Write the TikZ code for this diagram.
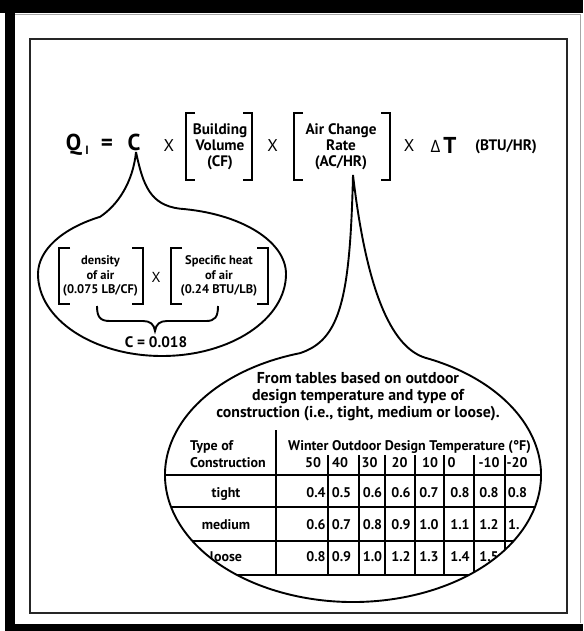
\documentclass[tikz,border=0pt]{standalone}
\usepackage{fontspec}
\setmainfont{PT Sans}
\newfontfamily\grk{Open Sans}
\usetikzlibrary{calc}
\begin{document}
\begin{tikzpicture}[x=1pt,y=-1pt,
  t/.style={inner sep=0pt,anchor=base,font=\bfseries\fontsize{15.2}{17}\selectfont},
  rt/.style={inner sep=0pt,anchor=base,font=\bfseries\fontsize{15.8}{17}\selectfont},
  big/.style={inner sep=0pt,anchor=base,font=\bfseries\fontsize{23}{25}\selectfont},
  mul/.style={inner sep=0pt,anchor=base,font=\fontsize{17}{19}\selectfont},
  sm/.style={inner sep=0pt,anchor=base,font=\bfseries\fontsize{12.5}{14}\selectfont},
  tb/.style={inner sep=0pt,anchor=base,font=\bfseries\fontsize{14}{15}\selectfont},
  brk/.style={line width=2.3pt},
  outl/.style={line width=1.9pt,line join=round},
  rule/.style={line width=1.7pt}]
\useasboundingbox (0,0) rectangle (583,631);
% frame
\fill[white] (0,0) rectangle (583,631);
\fill[black] (0,0) rectangle (583,13);
\fill[black] (4.5,0) rectangle (15,631);
\fill[black] (4.5,624) rectangle (583,631);
\draw[black!35,line width=0.8pt] (15,14) -- (580,14) -- (580,623);
\draw[black!85,line width=2pt] (30,39) rectangle (567,613);
% equation
\node[big] (q) at (73.5,151) {Q};
\node[inner sep=0pt,anchor=base,font=\bfseries\fontsize{12}{14}\selectfont] (qi) at (87,155) {I};
\node[big] (eq) at (107,151) {=};
\node[big] (c) at (134,151) {C};
\node[mul] (x1) at (169,152) {X};
\draw[brk] (195,113) -- (186,113) -- (186,180) -- (195,180);
\draw[brk] (243,113) -- (252,113) -- (252,180) -- (243,180);
\node[t] (bv1) at (220,135) {Building};
\node[t] (bv2) at (220,151) {Volume};
\node[t] (bv3) at (220,167) {(CF)};
\node[mul] (x2) at (272.5,152) {X};
\draw[brk] (303,113) -- (294,113) -- (294,180) -- (303,180);
\draw[brk] (381,113) -- (390,113) -- (390,180) -- (381,180);
\node[t] (ac1) at (341,135) {Air Change};
\node[t] (ac2) at (341,151) {Rate};
\node[t] (ac3) at (341,167) {(AC/HR)};
\node[mul] (x3) at (409,152) {X};
\node[inner sep=0pt,anchor=base,font=\grk\fontsize{17}{19}\selectfont] (dl) at (435.5,153) {Δ};
\node[big] (tt) at (450,153.5) {T};
\node[t] (unit) at (506,151) {(BTU/HR)};
% left callout
\draw[outl] (136,152) .. controls (143,185) and (150,205) .. ($(162,274)+(-81.7:124 and 66)$)
  arc[start angle=-81.7,end angle=0,x radius=124,y radius=66]
  arc[start angle=0,end angle=180,x radius=124,y radius=82]
  arc[start angle=180,end angle=240,x radius=124,y radius=66]
  .. controls (118,205) and (133,182) .. (136,152);
\draw[brk] (70,248) -- (59,248) -- (59,304) -- (70,304);
\draw[brk] (132,248) -- (143,248) -- (143,304) -- (132,304);
\node[sm] (d1) at (100.5,264) {density};
\node[sm] (d2) at (100.5,279) {of air};
\node[sm] (d3) at (100.5,293) {(0.075 LB/CF)};
\node[inner sep=0pt,anchor=base,font=\fontsize{14.5}{16}\selectfont] (x4) at (156,282) {X};
\draw[brk] (182,248) -- (171,248) -- (171,304) -- (182,304);
\draw[brk] (257,248) -- (268,248) -- (268,304) -- (257,304);
\node[sm] (s1) at (219,264) {Specific heat};
\node[sm] (s2) at (219,279) {of air};
\node[sm] (s3) at (219,293) {(0.24 BTU/LB)};
\draw[line width=1.9pt] (97,306) .. controls (97,317) and (100,321) .. (110,321) -- (143,321)
  .. controls (150,321) and (154,324) .. (155,331) .. controls (156,324) and (160,321) .. (167,321)
  -- (206,321) .. controls (215,321) and (218,317) .. (218,306);
\node[t] (c18) at (156,347) {C = 0.018};
% right callout
\begin{scope}
\clip (353,475) ellipse [x radius=188,y radius=127];
\node[rt] (r1) at (358,383) {From tables based on outdoor};
\node[rt] (r2) at (358,400) {design temperature and type of};
\node[rt] (r3) at (358,417) {construction (i.e., tight, medium or loose).};
\node[tb,anchor=base west] (h1) at (190,450) {Type of};
\node[tb,anchor=base west] (h2) at (190,467) {Construction};
\node[tb,anchor=base west] (h3) at (288,450) {Winter Outdoor Design Temperature (°F)};
\foreach \x/\v in {313/50,340/40,369.5/30,399.5/20,430/10,451.5/0,489/-10,517/-20}
  \node[tb] at (\x,467) {\v};
\node[tb] (tg) at (226,497) {tight};
\node[tb] (md) at (226,529) {medium};
\node[tb] (ls) at (226,561) {loose};
\foreach \x/\v in {316/0.4,341.5/0.5,372.5/0.6,401/0.6,429/0.7,460/0.8,489/0.8,517.5/0.8}
  \node[tb] at (\x,497) {\v};
\foreach \x/\v in {316/0.6,341.5/0.7,372.5/0.8,401/0.9,429/1.0,460/1.1,489/1.2}
  \node[tb] at (\x,529) {\v};
\node[tb,anchor=base west] at (508,529) {1.};
\foreach \x/\v in {316/0.8,341.5/0.9,372.5/1.0,401/1.2,429/1.3,460/1.4,489/1.5}
  \node[tb] at (\x,561) {\v};
\foreach \y in {475,507,541,575} \draw[rule] (160,\y) -- (545,\y);
\draw[rule] (276,430) -- (276,575);
\foreach \x in {328,359,385,415,444,474,505} \draw[rule] (\x,455) -- (\x,575);
\end{scope}
\draw[outl] (353,175) .. controls (364,270) and (385,345) .. ($(353,475)+(-67.5:188 and 127)$)
  arc[start angle=-67.5,end angle=253.6,x radius=188,y radius=127]
  .. controls (340,340) and (350,300) .. (353,175);
\end{tikzpicture}
\end{document}
